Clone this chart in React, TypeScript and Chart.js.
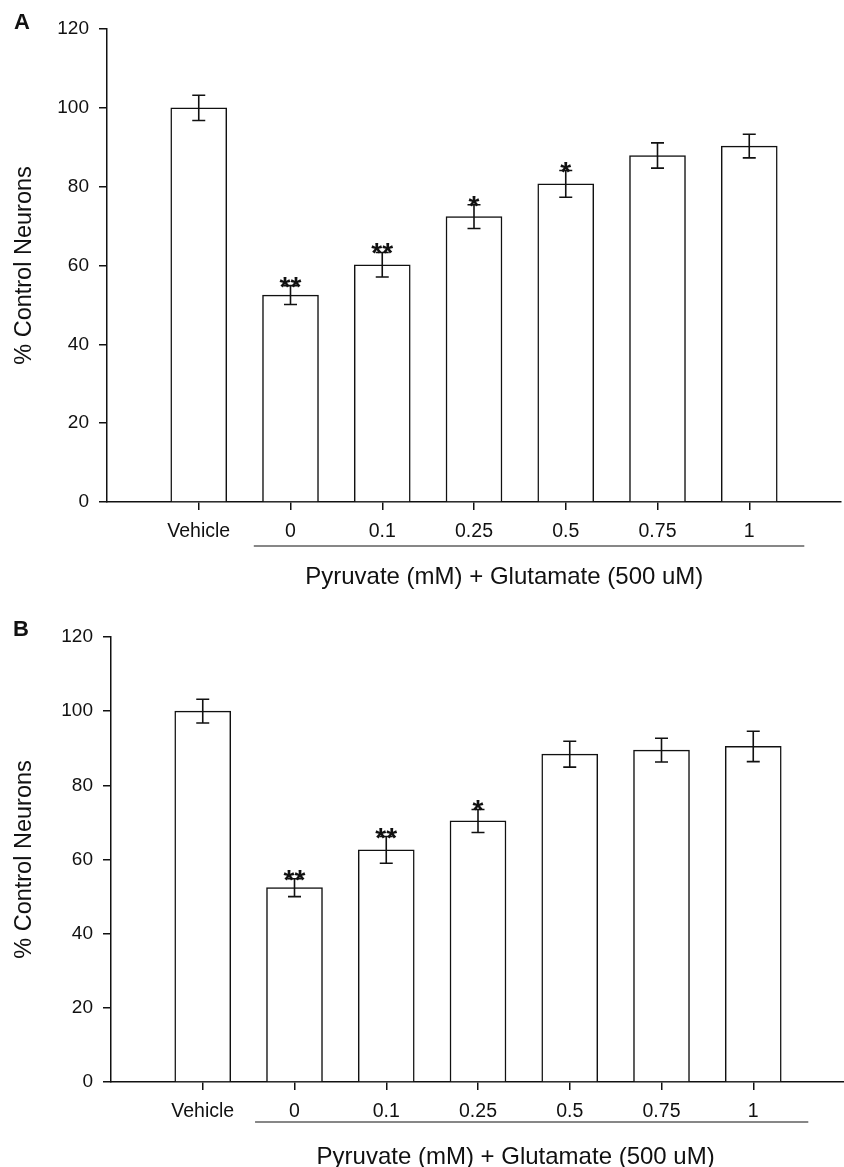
import React, { useEffect, useRef } from 'react';
import { Chart, registerables } from 'chart.js';

Chart.register(...registerables);

// ---- data ----
const categories = ['Vehicle', '0', '0.1', '0.25', '0.5', '0.75', '1'];
const valuesA = [100, 52.5, 60.2, 72.4, 80.7, 87.9, 90.3];
const errorsA = [3.2, 2.4, 3.1, 3.0, 3.4, 3.2, 3.0];
const sigA = ['', '**', '**', '*', '*', '', ''];
const valuesB = [100, 52.4, 62.6, 70.4, 88.4, 89.5, 90.5];
const errorsB = [3.2, 2.4, 3.6, 3.1, 3.5, 3.2, 4.1];
const sigB = ['', '**', '**', '*', '', '', ''];
const yTickValues = [0, 20, 40, 60, 80, 100, 120];
const xTitle = 'Pyruvate (mM) + Glutamate (500 uM)';
const yTitle = '% Control Neurons';

const FONT = '"Liberation Sans", Arial, sans-serif';
const INK = '#111';

type Panel = {
  letter: string;
  values: number[];
  errors: number[];
  sig: string[];
  width: number;
  height: number;
  top: number;
  yWidth: number;
  padTop: number;
  xHeight: number;
  underline: [number, number];
  titleAt: number;
  underlineOffset: number;
  titleOffset: number;
  letterY: number;
  letterX: number;
};

const panels: Panel[] = [
  {
    letter: 'A', values: valuesA, errors: errorsA, sig: sigA,
    width: 844, height: 590, top: 0, yWidth: 107, padTop: 29, xHeight: 88,
    underline: [1.6, 7.6], titleAt: 4.33, underlineOffset: 44, titleOffset: 75,
    letterY: 29, letterX: 14,
  },
  {
    letter: 'B', values: valuesB, errors: errorsB, sig: sigB,
    width: 848, height: 577, top: 590, yWidth: 111, padTop: 47, xHeight: 85,
    underline: [1.57, 7.6], titleAt: 4.41, underlineOffset: 40, titleOffset: 75,
    letterY: 46, letterX: 13,
  },
];

function PanelChart({ p }: { p: Panel }) {
  const ref = useRef<HTMLCanvasElement | null>(null);
  useEffect(() => {
    if (!ref.current) return;
    const positions = categories.map((_, i) => i + 1);
    const overlay = {
      id: 'overlay' + p.letter,
      afterDatasetsDraw(chart: any) {
        const { ctx, scales } = chart;
        const xs = scales.x;
        const ys = scales.y;
        ctx.save();
        ctx.strokeStyle = INK;
        ctx.lineWidth = 1.6;
        p.values.forEach((v, i) => {
          const x = xs.getPixelForValue(positions[i]);
          const yTop = ys.getPixelForValue(v + p.errors[i]);
          const yBot = ys.getPixelForValue(v - p.errors[i]);
          ctx.beginPath();
          ctx.moveTo(x, yTop);
          ctx.lineTo(x, yBot);
          ctx.moveTo(x - 6.5, yTop);
          ctx.lineTo(x + 6.5, yTop);
          ctx.moveTo(x - 6.5, yBot);
          ctx.lineTo(x + 6.5, yBot);
          ctx.stroke();
          if (p.sig[i]) {
            ctx.fillStyle = INK;
            ctx.font = 'bold 28px ' + FONT;
            ctx.textAlign = 'center';
            ctx.textBaseline = 'alphabetic';
            ctx.fillText(p.sig[i], x, yTop + 10);
          }
        });
        ctx.restore();
      },
      afterDraw(chart: any) {
        const { ctx, scales, chartArea } = chart;
        const xs = scales.x;
        ctx.save();
        ctx.strokeStyle = INK;
        ctx.lineWidth = 1.2;
        const yU = chartArea.bottom + p.underlineOffset;
        ctx.beginPath();
        ctx.moveTo(xs.getPixelForValue(p.underline[0]), yU);
        ctx.lineTo(xs.getPixelForValue(p.underline[1]), yU);
        ctx.stroke();
        ctx.fillStyle = INK;
        ctx.font = '24px ' + FONT;
        ctx.textAlign = 'center';
        ctx.textBaseline = 'middle';
        ctx.fillText(xTitle, xs.getPixelForValue(p.titleAt), chartArea.bottom + p.titleOffset);
        ctx.font = 'bold 22px ' + FONT;
        ctx.textAlign = 'left';
        ctx.textBaseline = 'alphabetic';
        ctx.fillText(p.letter, p.letterX, p.letterY);
        ctx.restore();
      },
    };
    const chart = new Chart(ref.current, {
      type: 'bar',
      data: {
        datasets: [
          {
            data: p.values.map((v, i) => ({ x: positions[i], y: v })),
            backgroundColor: '#ffffff',
            borderColor: INK,
            borderWidth: 1.5,
            barThickness: 56,
          },
        ],
      },
      options: {
        responsive: false,
        animation: false,
        events: [],
        layout: { padding: { top: p.padTop, right: 3, left: 0, bottom: 0 } },
        plugins: { legend: { display: false }, tooltip: { enabled: false } },
        scales: {
          x: {
            type: 'linear',
            offset: false,
            min: 0,
            max: categories.length + 1,
            afterBuildTicks: (scale: any) => {
              scale.ticks = positions.map((v) => ({ value: v }));
            },
            afterFit: (scale: any) => {
              scale.height = p.xHeight;
            },
            ticks: {
              autoSkip: false,
              maxRotation: 0,
              padding: 10,
              color: INK,
              font: { family: FONT, size: 19.5 },
              callback: (v: any) => categories[Number(v) - 1] ?? '',
            },
            grid: { offset: false, drawOnChartArea: false, drawTicks: true, tickLength: 8, color: INK, lineWidth: 1.5 },
            border: { display: true, color: INK, width: 1.5 },
          },
          y: {
            min: 0,
            max: 120,
            afterBuildTicks: (scale: any) => {
              scale.ticks = yTickValues.map((v) => ({ value: v }));
            },
            afterFit: (scale: any) => {
              scale.width = p.yWidth;
            },
            ticks: {
              padding: 10,
              color: INK,
              font: { family: FONT, size: 19 },
            },
            title: {
              display: true,
              text: yTitle,
              color: INK,
              font: { family: FONT, size: 23.5 },
              padding: { top: 10, bottom: 0 },
            },
            grid: { drawOnChartArea: false, drawTicks: true, tickLength: 8, color: INK, lineWidth: 1.5 },
            border: { display: true, color: INK, width: 1.5 },
          },
        },
      },
      plugins: [overlay],
    } as any);
    return () => chart.destroy();
  }, [p]);
  return (
    <canvas
      ref={ref}
      width={p.width}
      height={p.height}
      style={{ position: 'absolute', left: 0, top: p.top, width: p.width, height: p.height, display: 'block' }}
    />
  );
}

export default function App() {
  return (
    <div
      style={{
        position: 'absolute',
        left: 0,
        top: 0,
        width: 844,
        height: 1167,
        overflow: 'hidden',
        background: '#fff',
      }}
    >
      {panels.map((p) => (
        <PanelChart key={p.letter} p={p} />
      ))}
    </div>
  );
}
